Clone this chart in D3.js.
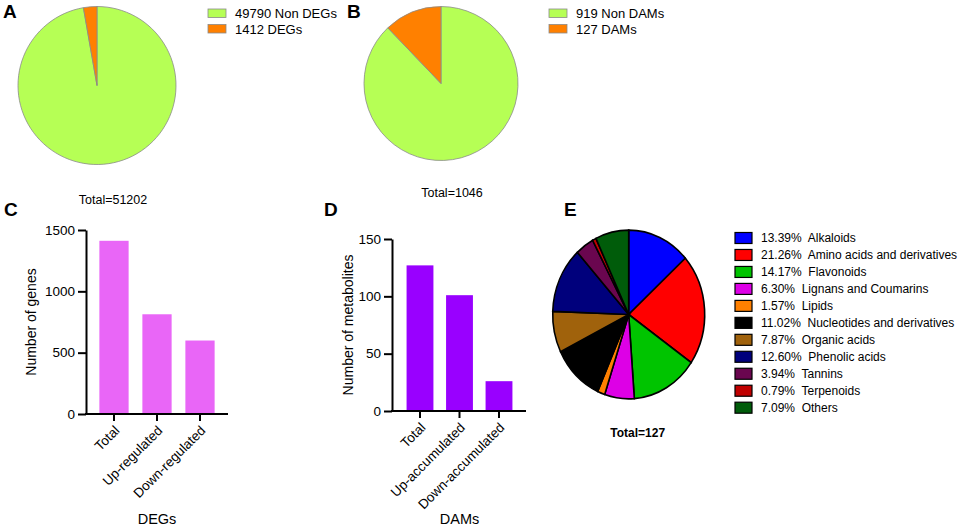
<!DOCTYPE html>
<html lang="en">
<head>
    <meta charset="utf-8">
    <title>DEGs and DAMs</title>
    <style>
        body {
            margin: 0;
            background: #fff;
        }
        svg text {
            font-family: "Liberation Sans", Arial, sans-serif;
            fill: #000;
        }
        .panel-label {
            font-size: 19px;
            font-weight: bold;
        }
    </style>
</head>
<body>
<svg id="chart" width="962" height="529"></svg>
<script src="https://d3js.org/d3.v7.min.js"></script>
<script>
    // panel A
    const degNames = ["Non DEGs", "DEGs"];
    const degCounts = [49790, 1412];
    // panel B
    const damNames = ["Non DAMs", "DAMs"];
    const damCounts = [919, 127];
    const twoColors = ["#b6ff55", "#ff8000"];

    // panel C
    const geneCats = ["Total", "Up-regulated", "Down-regulated"];
    const geneValues = [1412, 813, 599];
    const geneTicks = [0, 500, 1000, 1500];

    // panel D
    const metCats = ["Total", "Up-accumulated", "Down-accumulated"];
    const metValues = [127, 101, 26];
    const metTicks = [0, 50, 100, 150];

    // panel E
    const classNames = ["Alkaloids", "Amino acids and derivatives", "Flavonoids", "Lignans and Coumarins",
        "Lipids", "Nucleotides and derivatives", "Organic acids", "Phenolic acids", "Tannins", "Terpenoids", "Others"];
    const classCounts = [17, 27, 18, 8, 2, 14, 10, 16, 5, 1, 9];
    const classColors = ["#0000ff", "#ff0000", "#00c400", "#dd00e6", "#ff8000", "#000000",
        "#a0620c", "#00007c", "#6a064f", "#c00000", "#005c0a"];

    const svg = d3.select("#chart");
    const pie = d3.pie().sort(null).value(d => d);

    // panel letters
    const letters = [["A", 3, 18], ["B", 347, 18], ["C", 4, 216], ["D", 324, 216], ["E", 564, 216]];
    svg.selectAll(".panel-label")
        .data(letters)
        .enter()
        .append("text")
        .attr("class", "panel-label")
        .attr("x", d => d[1])
        .attr("y", d => d[2])
        .text(d => d[0]);

    //simple two slice pie with legend
    function twoPie(counts, names, cx, cy, r, lx, tx, ty) {
        const g = svg.append("g").attr("transform", "translate(" + cx + "," + cy + ")");
        const arc = d3.arc().innerRadius(0).outerRadius(r);
        g.selectAll("path")
            .data(pie(counts))
            .enter()
            .append("path")
            .attr("d", arc)
            .attr("fill", (d, i) => twoColors[i])
            .attr("stroke", "#8a8a8a")
            .attr("stroke-width", 0.8);

        const leg = svg.append("g").attr("transform", "translate(" + lx + ",9)");
        const row = leg.selectAll("g")
            .data(counts)
            .enter()
            .append("g")
            .attr("transform", (d, i) => "translate(0," + i * 15.5 + ")");
        row.append("rect")
            .attr("width", 18)
            .attr("height", 8.5)
            .attr("fill", (d, i) => twoColors[i])
            .attr("stroke", "#8a8a8a")
            .attr("stroke-width", 0.8);
        row.append("text")
            .attr("x", 27)
            .attr("y", 9)
            .style("font-size", "13px")
            .text((d, i) => d + " " + names[i]);

        const total = d3.sum(counts);
        svg.append("text")
            .attr("x", tx)
            .attr("y", ty)
            .attr("text-anchor", "middle")
            .style("font-size", "12.5px")
            .text("Total=" + total);
    }

    twoPie(degCounts, degNames, 97, 85.5, 79, 208, 113, 204);
    twoPie(damCounts, damNames, 441, 83.5, 77, 549, 452, 197);

    //bar panel
    function barPanel(cats, values, ticks, color, axisX, x0, x1, axisEnd, yBase, yTop, yTitle, yTitleX, xTitle) {
        const y = d3.scaleLinear().domain([0, ticks[ticks.length - 1]]).range([yBase, yTop]);
        const x = d3.scaleBand().domain(cats).range([x0, x1]).paddingInner(0.32).paddingOuter(0.16);

        svg.append("g")
            .selectAll("rect")
            .data(values)
            .enter()
            .append("rect")
            .attr("x", (d, i) => x(cats[i]))
            .attr("y", d => y(d))
            .attr("width", x.bandwidth())
            .attr("height", d => yBase - y(d))
            .attr("fill", color);

        const ya = svg.append("g")
            .attr("transform", "translate(" + axisX + ",0)")
            .call(d3.axisLeft(y).tickValues(ticks).tickFormat(d3.format("d")).tickSize(8).tickSizeOuter(0).tickPadding(3));
        ya.select(".domain").attr("stroke-width", 2);
        ya.selectAll(".tick line").attr("stroke-width", 2);
        ya.selectAll("text").style("font-size", "13.5px").style("font-family", "'Liberation Sans', Arial, sans-serif");

        const xa = svg.append("g")
            .attr("transform", "translate(0," + yBase + ")")
            .call(d3.axisBottom(x).tickSize(7).tickSizeOuter(0));
        xa.select(".domain").attr("d", "M" + (axisX - 1) + ",0H" + axisEnd).attr("stroke-width", 2);
        xa.selectAll(".tick line").attr("stroke-width", 2);
        xa.selectAll("text")
            .style("font-size", "13.5px")
            .style("font-family", "'Liberation Sans', Arial, sans-serif")
            .attr("text-anchor", "end")
            .attr("x", 0)
            .attr("y", 0)
            .attr("dy", "0.35em")
            .attr("transform", "translate(3,14) rotate(-45)");

        svg.append("text")
            .attr("transform", "translate(" + yTitleX + "," + (yBase + yTop) / 2 + ") rotate(-90)")
            .attr("text-anchor", "middle")
            .attr("dy", "0.35em")
            .style("font-size", "14px")
            .text(yTitle);

        svg.append("text")
            .attr("x", x0 + (x1 - x0) / 2)
            .attr("y", 524)
            .attr("text-anchor", "middle")
            .style("font-size", "14.5px")
            .text(xTitle);
    }

    barPanel(geneCats, geneValues, geneTicks, "#e966f7", 86, 92.5, 221.5, 228, 414, 230, "Number of genes", 31, "DEGs");
    barPanel(metCats, metValues, metTicks, "#9900ff", 392, 400.25, 518.75, 526, 411, 239, "Number of metabolites", 348, "DAMs");

    // panel E pie (drawn a little taller than wide, as in the figure)
    const total127 = d3.sum(classCounts);
    const eg = svg.append("g").attr("transform", "translate(628.7,314.5) scale(1,1.11)");
    const arcE = d3.arc().innerRadius(0).outerRadius(76);
    eg.selectAll("path")
        .data(pie(classCounts))
        .enter()
        .append("path")
        .attr("d", arcE)
        .attr("fill", (d, i) => classColors[i])
        .attr("stroke", "#000")
        .attr("stroke-width", 1.6)
        .attr("vector-effect", "non-scaling-stroke");

    svg.append("text")
        .attr("x", 637.7)
        .attr("y", 437)
        .attr("text-anchor", "middle")
        .style("font-size", "12px")
        .style("font-weight", "bold")
        .text("Total=" + total127);

    const legE = svg.append("g").attr("transform", "translate(735,238)");
    const rowE = legE.selectAll("g")
        .data(classCounts)
        .enter()
        .append("g")
        .attr("transform", (d, i) => "translate(0," + i * 16.97 + ")");
    rowE.append("rect")
        .attr("y", -5.5)
        .attr("width", 17)
        .attr("height", 11)
        .attr("fill", (d, i) => classColors[i])
        .attr("stroke", "#000")
        .attr("stroke-width", 1.2);
    rowE.append("text")
        .attr("x", 26)
        .attr("dy", "0.36em")
        .style("font-size", "12px")
        .style("white-space", "pre")
        .text((d, i) => (d / total127 * 100).toFixed(2) + "%  " + classNames[i]);
</script>
</body>
</html>
